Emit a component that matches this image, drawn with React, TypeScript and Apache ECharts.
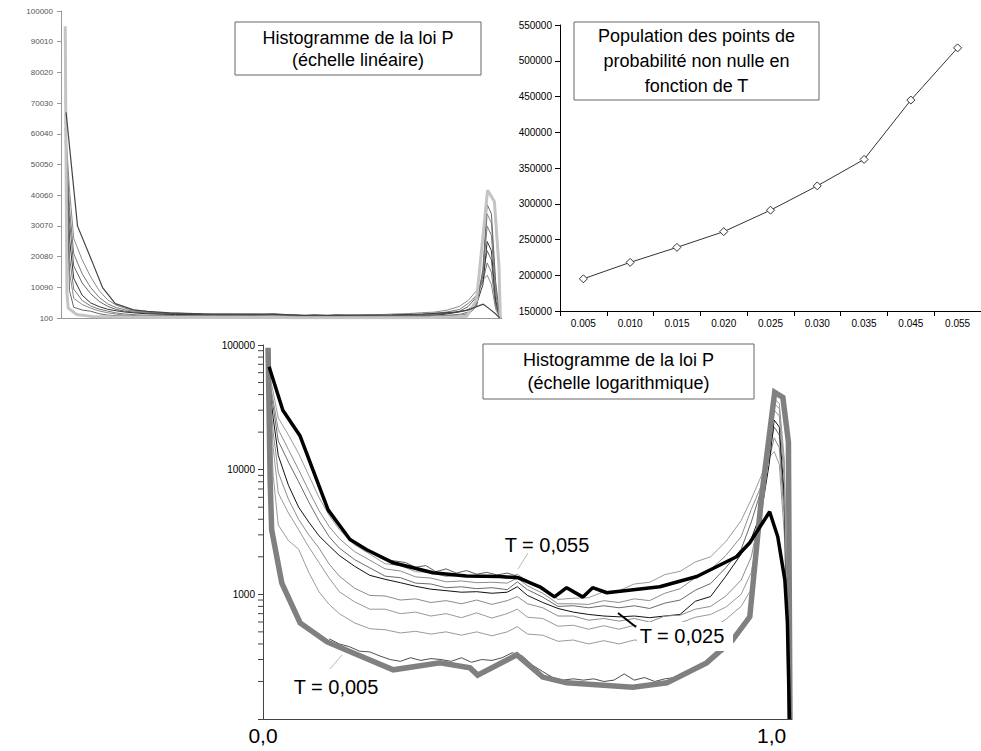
import React, { useEffect, useRef } from 'react';
import * as echarts from 'echarts';

// ---------- Data ----------
// Top-right: population of non-zero probability points vs T
const popT = ['0.005', '0.010', '0.015', '0.020', '0.025', '0.030', '0.035', '0.045', '0.055'];
const popV = [195000, 218000, 239000, 261000, 291000, 325000, 362000, 445000, 518000];

// Top-left linear histogram tick labels (Excel style: 100 + k*9990)
const linTicks = ['100', '10090', '20080', '30070', '40060', '50050', '60040', '70030', '80020', '90010', '100000'];

// Log axis minor ticks
const minorTicks = [200, 300, 400, 500, 600, 700, 800, 900, 2000, 3000, 4000, 5000, 6000, 7000, 8000, 9000,
  20000, 30000, 40000, 50000, 60000, 70000, 80000, 90000];

// Histogram bins (x in [0, 1.04]) for the intermediate T curves
const thinX = [0.01, 0.02, 0.03, 0.05, 0.07, 0.09, 0.11, 0.13, 0.15, 0.18, 0.21, 0.24, 0.27, 0.30, 0.33, 0.36,
  0.39, 0.42, 0.45, 0.48, 0.50, 0.52, 0.55, 0.58, 0.61, 0.64, 0.67, 0.70, 0.73, 0.76, 0.79, 0.82, 0.85, 0.88,
  0.91, 0.94, 0.96, 0.98, 0.995, 1.005, 1.015, 1.025, 1.035];

const t045 = [64000, 42000, 26000, 19000, 13500, 9000, 6000, 4300, 3300, 2500, 2100, 1760, 1700, 1520, 1500, 1390,
  1420, 1370, 1390, 1340, 1450, 1280, 1150, 910, 930, 940, 1050, 1070, 1210, 1250, 1440, 1530, 1820, 2000,
  2650, 3900, 5800, 9000, 12500, 14000, 11000, 3000, 100];
const t035 = [62000, 36000, 21000, 14500, 10000, 6800, 4700, 3500, 2800, 2200, 1880, 1600, 1540, 1380, 1350, 1260,
  1280, 1240, 1250, 1230, 1350, 1170, 1020, 840, 840, 830, 890, 860, 920, 890, 1020, 1110, 1360, 1580,
  2050, 2900, 4800, 7500, 12000, 18000, 15000, 4000, 100];
const t030 = [60000, 32000, 17000, 11500, 8000, 5500, 3900, 2900, 2350, 1900, 1630, 1400, 1360, 1230, 1210, 1130,
  1150, 1110, 1130, 1090, 1260, 1090, 950, 800, 810, 780, 810, 780, 810, 770, 850, 900, 1080, 1220,
  1640, 2300, 3800, 7000, 14000, 22000, 19000, 5000, 100];
const t025 = [58000, 26000, 13000, 7500, 5000, 3800, 2950, 2450, 2050, 1680, 1420, 1320, 1240, 1160, 1100, 1070,
  1040, 1050, 1020, 1040, 1150, 980, 860, 770, 720, 690, 670, 660, 670, 650, 670, 690, 880, 960,
  1400, 2100, 2800, 4600, 11000, 25000, 22000, 6000, 100];
const t020 = [62000, 20000, 9500, 5800, 4000, 3000, 2350, 1750, 1400, 1120, 980, 970, 900, 920, 860, 890,
  840, 900, 830, 890, 960, 840, 780, 670, 670, 620, 640, 610, 640, 600, 670, 680, 760, 800,
  970, 1300, 2000, 5000, 14000, 30000, 27000, 8000, 100];
const t015 = [66000, 15000, 6500, 4500, 3300, 2400, 1800, 1350, 1050, 870, 760, 760, 700, 720, 670, 700,
  650, 710, 645, 700, 760, 655, 640, 555, 565, 525, 560, 525, 565, 540, 585, 590, 655, 690,
  790, 1000, 1500, 4500, 15000, 34000, 31000, 10000, 100];
const t010 = [72000, 9000, 3600, 2700, 2300, 1500, 1050, 830, 700, 590, 530, 520, 490, 505, 480, 500,
  470, 500, 465, 500, 550, 480, 470, 420, 430, 400, 425, 400, 430, 420, 450, 450, 500, 530,
  630, 800, 1100, 4000, 16000, 37000, 34000, 12000, 100];

// T = 0.005 (thick grey trend)
const grayX = [0.01, 0.014, 0.017, 0.037, 0.073, 0.126, 0.256, 0.348, 0.407, 0.422, 0.499, 0.55, 0.597, 0.727,
  0.794, 0.872, 0.923, 0.957, 0.98, 1.006, 1.022, 1.033, 1.036];
const grayV = [95000, 8300, 3300, 1230, 590, 415, 248, 282, 257, 225, 327, 217, 195, 180, 195, 282, 430, 660,
  6000, 41700, 38000, 16600, 100];

// T = 0.055 (thick black trend)
const blackX = [0.012, 0.039, 0.073, 0.098, 0.128, 0.171, 0.204, 0.256, 0.334, 0.4, 0.466, 0.501, 0.544, 0.573,
  0.597, 0.629, 0.648, 0.676, 0.78, 0.853, 0.931, 0.957, 0.996, 1.012, 1.026, 1.031, 1.035];
const blackV = [67000, 30000, 18600, 10000, 4760, 2750, 2280, 1790, 1490, 1400, 1390, 1360, 1150, 955, 1130, 950,
  1130, 1030, 1150, 1390, 2000, 2590, 4600, 2900, 1300, 590, 100];

// Raw noisy histograms under the thick trends
const raw005X = [0.13, 0.15, 0.17, 0.19, 0.21, 0.23, 0.25, 0.27, 0.29, 0.31, 0.33, 0.35, 0.37, 0.39, 0.41, 0.43,
  0.45, 0.47, 0.49, 0.51, 0.53, 0.55, 0.57, 0.59, 0.61, 0.63, 0.65, 0.67, 0.69, 0.71, 0.73, 0.75, 0.77, 0.79,
  0.81, 0.83, 0.85, 0.87, 0.89, 0.91];
const raw005V = [440, 400, 380, 350, 345, 320, 300, 290, 310, 295, 305, 300, 290, 310, 285, 300,
  295, 310, 340, 320, 270, 240, 215, 205, 210, 205, 210, 200, 205, 230, 205, 215, 200, 210,
  215, 225, 250, 270, 320, 360];
const raw055X = [0.24, 0.26, 0.28, 0.30, 0.32, 0.34, 0.36, 0.38, 0.40, 0.42, 0.44, 0.46, 0.48, 0.50, 0.52];
const raw055V = [1900, 1850, 1800, 1650, 1700, 1520, 1600, 1480, 1550, 1450, 1500, 1430, 1480, 1400, 1300];

const FONT = 'Liberation Sans, Arial, sans-serif';

const thinCurves = [
  { name: 'T=0,045', x: thinX, v: t045, logColor: '#9a9a9a', linColor: '#8a8a8a' },
  { name: 'T=0,035', x: thinX, v: t035, logColor: '#8c8c8c', linColor: '#777' },
  { name: 'T=0,030', x: thinX, v: t030, logColor: '#6a6a6a', linColor: '#666' },
  { name: 'T=0,025', x: thinX, v: t025, logColor: '#111', linColor: '#333' },
  { name: 'T=0,020', x: thinX, v: t020, logColor: '#8c8c8c', linColor: '#777' },
  { name: 'T=0,015', x: thinX, v: t015, logColor: '#999', linColor: '#888' },
  { name: 'T=0,010', x: thinX, v: t010, logColor: '#9a9a9a', linColor: '#666' },
];

const pairs = (xs: number[], vs: number[]) => xs.map((x, i) => [x, vs[i]]);

export default function App() {
  const ref = useRef<HTMLDivElement>(null);
  useEffect(() => {
    const chart = echarts.init(ref.current!, null, { renderer: 'svg' });

    const series: any[] = [];
    // linear chart series
    thinCurves.forEach((c) => {
      series.push({
        type: 'line', name: c.name + ' lin', xAxisIndex: 0, yAxisIndex: 0, data: pairs(c.x, c.v),
        symbol: 'none', lineStyle: { color: c.linColor, width: 1 }, silent: true,
      });
    });
    series.push({
      type: 'line', name: 'T=0,005 lin', xAxisIndex: 0, yAxisIndex: 0, data: pairs(grayX, grayV),
      symbol: 'none', lineStyle: { color: '#c4c4c4', width: 3 }, silent: true,
    });
    series.push({
      type: 'line', name: 'T=0,055 lin', xAxisIndex: 0, yAxisIndex: 0, data: pairs(blackX, blackV),
      symbol: 'none', lineStyle: { color: '#444', width: 1.2 }, silent: true,
    });

    // population chart
    series.push({
      type: 'line', name: 'population', xAxisIndex: 1, yAxisIndex: 2, data: popV,
      symbol: 'diamond', symbolSize: 8, showAllSymbol: true,
      itemStyle: { color: '#fff', borderColor: '#333', borderWidth: 1 },
      lineStyle: { color: '#333', width: 1 }, silent: true,
    });

    // log chart
    thinCurves.forEach((c) => {
      series.push({
        type: 'line', name: c.name, xAxisIndex: 2, yAxisIndex: 3, data: pairs(c.x, c.v),
        symbol: 'none', lineStyle: { color: c.logColor, width: 1 }, z: 2, silent: true,
      });
    });
    series.push({
      type: 'line', name: 'raw 0,005', xAxisIndex: 2, yAxisIndex: 3, data: pairs(raw005X, raw005V),
      symbol: 'none', lineStyle: { color: '#222', width: 0.8 }, z: 2, silent: true,
    });
    series.push({
      type: 'line', name: 'raw 0,055', xAxisIndex: 2, yAxisIndex: 3, data: pairs(raw055X, raw055V),
      symbol: 'none', lineStyle: { color: '#333', width: 0.8 }, z: 2, silent: true,
    });
    series.push({
      type: 'line', name: 'T=0,005', xAxisIndex: 2, yAxisIndex: 3, data: pairs(grayX, grayV),
      symbol: 'none', lineStyle: { color: '#808080', width: 5.5, join: 'miter' }, z: 3, silent: true,
    });
    series.push({
      type: 'line', name: 'T=0,055', xAxisIndex: 2, yAxisIndex: 3, data: pairs(blackX, blackV),
      symbol: 'none', lineStyle: { color: '#000', width: 3.5 }, z: 4, silent: true,
    });
    // minor ticks on log axis
    series.push({
      type: 'custom', name: 'minor ticks', xAxisIndex: 2, yAxisIndex: 3,
      data: minorTicks.map((v) => [0, v]), silent: true, clip: false,
      renderItem: (params: any, api: any) => {
        const p = api.coord([0, api.value(1)]);
        return {
          type: 'line',
          shape: { x1: p[0] - 5, y1: p[1], x2: p[0], y2: p[1] },
          style: { stroke: '#444', lineWidth: 1 },
        };
      },
    });

    const box = (x: number, y: number, w: number, h: number, lines: string[], lh: number, fs: number) => ({
      type: 'group', z: 100,
      children: [
        { type: 'rect', z: 100, shape: { x, y, width: w, height: h }, style: { fill: '#fff', stroke: '#666', lineWidth: 1 } },
        {
          type: 'text', z: 101, x: x + w / 2, y: y + h / 2,
          style: {
            text: lines.join('\n'), font: `${fs}px ${FONT}`, fill: '#000',
            align: 'center', verticalAlign: 'middle', lineHeight: lh,
          },
        },
      ],
    });
    const label = (x: number, y: number, t: string) => ({
      type: 'text', z: 101, x, y,
      style: { text: t, font: `20px ${FONT}`, fill: '#000', align: 'center', verticalAlign: 'middle' },
    });

    const option: any = {
      animation: false,
      textStyle: { fontFamily: FONT },
      grid: [
        { left: 61, top: 11, width: 441, height: 307 },
        { left: 560, top: 25, width: 428, height: 286 },
        { left: 263, top: 345, width: 529, height: 374 },
      ],
      xAxis: [
        {
          type: 'value', gridIndex: 0, min: 0, max: 1.04,
          axisLine: { show: true, lineStyle: { color: '#999' } },
          axisTick: { show: false }, axisLabel: { show: false }, splitLine: { show: false },
        },
        {
          type: 'category', gridIndex: 1, data: popT, boundaryGap: true,
          axisLine: { show: true, lineStyle: { color: '#000' } },
          axisTick: { show: true, length: 5, interval: 0, lineStyle: { color: '#000' } },
          axisLabel: { fontSize: 10, color: '#000', margin: 7, interval: 0, fontFamily: FONT },
          splitLine: { show: false },
        },
        {
          type: 'value', gridIndex: 2, min: 0, max: 1.04, interval: 1,
          axisLine: { show: true, lineStyle: { color: '#444' } },
          axisTick: { show: false }, splitLine: { show: false },
          axisLabel: {
            fontSize: 21, color: '#000', margin: 6, fontFamily: FONT,
            formatter: (v: number) => (v === 0 ? '0,0' : v === 1 ? '1,0' : ''),
          },
        },
      ],
      yAxis: [
        { type: 'value', gridIndex: 0, min: 100, max: 100000, show: false },
        {
          type: 'category', gridIndex: 0, data: linTicks, boundaryGap: false, position: 'left',
          axisLine: { show: true, lineStyle: { color: '#999' } },
          axisTick: { show: true, length: 4, interval: 0, lineStyle: { color: '#999' } },
          axisLabel: { fontSize: 8, color: '#555', margin: 8, interval: 0, fontFamily: FONT },
          splitLine: { show: false },
        },
        {
          type: 'value', gridIndex: 1, min: 150000, max: 550000, interval: 50000,
          axisLine: { show: true, lineStyle: { color: '#000' } },
          axisTick: { show: true, length: 5, lineStyle: { color: '#000' } },
          axisLabel: {
            fontSize: 10, color: '#000', margin: 8, fontFamily: FONT,
            formatter: (v: number) => String(v),
          },
          splitLine: { show: false },
        },
        {
          type: 'log', gridIndex: 2, min: 100, max: 100000, logBase: 10,
          axisLine: { show: true, lineStyle: { color: '#444' } },
          axisTick: { show: true, length: 5, lineStyle: { color: '#444' } },
          axisLabel: {
            fontSize: 10, color: '#000', margin: 8, fontFamily: FONT,
            formatter: (v: number) => (v === 100 ? '' : String(v)),
          },
          splitLine: { show: false },
        },
      ],
      series,
      graphic: [
        box(235, 22, 246, 53, ['Histogramme de la loi P', '(échelle linéaire)'], 22, 18),
        box(574, 22, 245, 78, ['Population des points de', 'probabilité non nulle en', 'fonction de T'], 25, 18),
        box(483, 344, 271, 55, ['Histogramme de la loi P', '(échelle logarithmique)'], 23, 18),
        { type: 'line', z: 100, shape: { x1: 528, y1: 553, x2: 518, y2: 569 }, style: { stroke: '#bbb', lineWidth: 1 } },
        { type: 'line', z: 100, shape: { x1: 330, y1: 669, x2: 342, y2: 655 }, style: { stroke: '#bbb', lineWidth: 1 } },
        { type: 'line', z: 100, shape: { x1: 618, y1: 613, x2: 636, y2: 627 }, style: { stroke: '#000', lineWidth: 2 } },
        { type: 'rect', z: 100, shape: { x: 637, y: 622, width: 96, height: 29 }, style: { fill: '#fff' } },
        label(547, 545, 'T = 0,055'),
        label(336, 687, 'T = 0,005'),
        label(682, 636, 'T = 0,025'),
      ],
    };
    chart.setOption(option);
    return () => chart.dispose();
  }, []);
  return (
    <div
      ref={ref}
      style={{ position: 'fixed', left: 0, top: 0, width: 981, height: 751, background: '#fff' }}
    />
  );
}
